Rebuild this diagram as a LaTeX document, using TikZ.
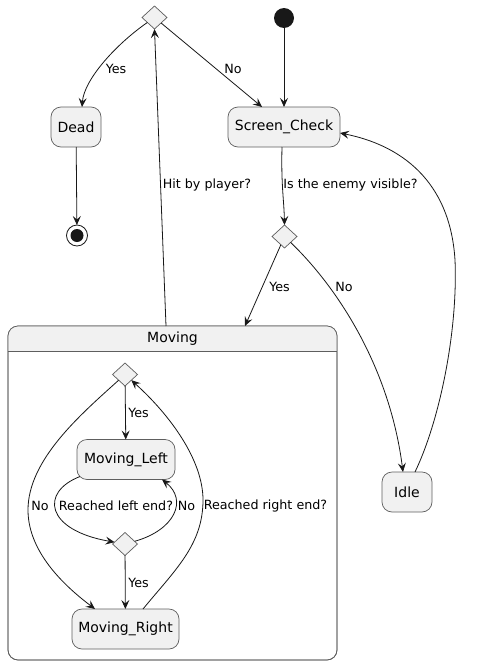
\documentclass[tikz,border=0pt]{standalone}
\usepackage{fontspec}
\setmainfont{DejaVu Sans}
\usetikzlibrary{shapes.geometric,arrows.meta}
\definecolor{stfill}{HTML}{F1F1F1}
\definecolor{bordc}{HTML}{5E5E5E}
\definecolor{linec}{HTML}{181818}
\begin{document}
\begin{tikzpicture}[x=1pt,y=-1pt,
 state/.style={draw=bordc, fill=stfill, rounded corners=10pt, minimum height=40pt, inner sep=0pt, outer sep=0pt, font=\fontsize{14}{16}\selectfont, line width=0.7pt},
 choice/.style={diamond, draw=bordc, fill=stfill, minimum width=25pt, minimum height=23pt, inner sep=0pt, outer sep=0pt, line width=0.7pt},
 lbl/.style={font=\fontsize{12.7}{15}\selectfont, inner sep=0pt, text=black},
 arr/.style={draw=linec, line width=0.8pt, -{Stealth[length=9pt,width=8pt,inset=3.5pt]}},
]
\useasboundingbox (0,0) rectangle (493,664);

% top level nodes
\node[choice] (dtop) at (154.5,17.5) {};
\node[circle, fill=linec, minimum size=20pt, inner sep=0pt, outer sep=0pt] (init) at (284,18) {};
\node[state, minimum width=50pt] (dead) at (76,127) {Dead};
\node[state, minimum width=112pt] (sc) at (284,127) {Screen\_Check};
\node[circle, draw=linec, fill=white, minimum size=21pt, inner sep=0pt, outer sep=0pt, line width=0.8pt] (final) at (77,235.5) {};
\fill[linec] (final.center) circle (6.5pt);
\node[choice] (dec2) at (284.5,236.5) {};
\node[state, minimum width=50pt] (idle) at (407,492) {Idle};

% composite state
\node[draw=bordc, fill=white, rounded corners=10pt, minimum width=329pt, minimum height=334pt, inner sep=0pt, outer sep=0pt, line width=0.7pt] (moving) at (172.5,493) {};
\begin{scope}
\clip (0,0) rectangle (493,351);
\fill[stfill, rounded corners=10pt] (moving.north west) rectangle (moving.south east);
\end{scope}
\draw[bordc, line width=0.7pt, rounded corners=10pt] (moving.north west) rectangle (moving.south east);
\draw[bordc, line width=0.7pt] ([yshift=-25pt]moving.north west) -- ([yshift=-25pt]moving.north east);
\node[font=\fontsize{14}{16}\selectfont] (movlbl) at (172.5,338.5) {Moving};

% inner nodes
\node[choice] (dmt) at (125,374.5) {};
\node[state, minimum width=98pt] (ml) at (126,459.5) {Moving\_Left};
\node[choice] (dm2) at (125,544) {};
\node[state, minimum width=107pt] (mr) at (125.5,629) {Moving\_Right};

% edges
\draw[arr] (init) -- (sc);
\draw[arr] (dead) -- (final);
\draw[arr] (dtop) .. controls (115,45) and (84,80) .. ([xshift=6pt]dead.north) node[lbl] at (116,69) {Yes};
\draw[arr] (dtop) -- ([xshift=-22pt]sc.north) node[lbl] at (233,69) {No};
\draw[arr] ([xshift=-6.5pt]moving.north) -- (dtop.south) node[lbl] at (207,185) {Hit by player?};
\draw[arr] ([xshift=-2pt]sc.south) .. controls (281,185) and (284,200) .. (dec2.north) node[lbl, anchor=west] at (283,185) {Is the enemy visible?};
\draw[arr] (dec2) -- ([xshift=72.5pt]moving.north) node[lbl] at (279.5,287) {Yes};
\draw[arr] (dec2) .. controls (340,290) and (390,370) .. ([xshift=-4pt]idle.north) node[lbl] at (344,287) {No};
\draw[arr] ([xshift=8pt]idle.north) .. controls (440,420) and (458,330) .. (455,260) .. controls (450,180) and (400,145) .. ([yshift=-6pt]sc.east);

\draw[arr] (dmt) -- (ml) node[lbl] at (138.5,413) {Yes};
\draw[arr] (dmt) .. controls (80,415) and (28,460) .. (28,510) .. controls (28,555) and (70,590) .. ([xshift=-30.5pt]mr.north) node[lbl] at (40,506) {No};
\draw[arr] ([xshift=17.5pt]mr.north) .. controls (175,570) and (203,545) .. (203,500) .. controls (203,460) and (170,415) .. (dmt) node[lbl] at (265.5,506) {Reached right end?};
\draw[arr] ([shift={(3pt,3pt)}]ml.south west) .. controls (40,492) and (45,530) .. (dm2) node[lbl] at (116,506) {Reached left end?};
\draw[arr] (dm2) .. controls (175,530) and (188,500) .. ([xshift=36pt]ml.south) node[lbl] at (186.5,506) {No};
\draw[arr] (dm2) -- (mr) node[lbl] at (138.5,583) {Yes};
\end{tikzpicture}
\end{document}
